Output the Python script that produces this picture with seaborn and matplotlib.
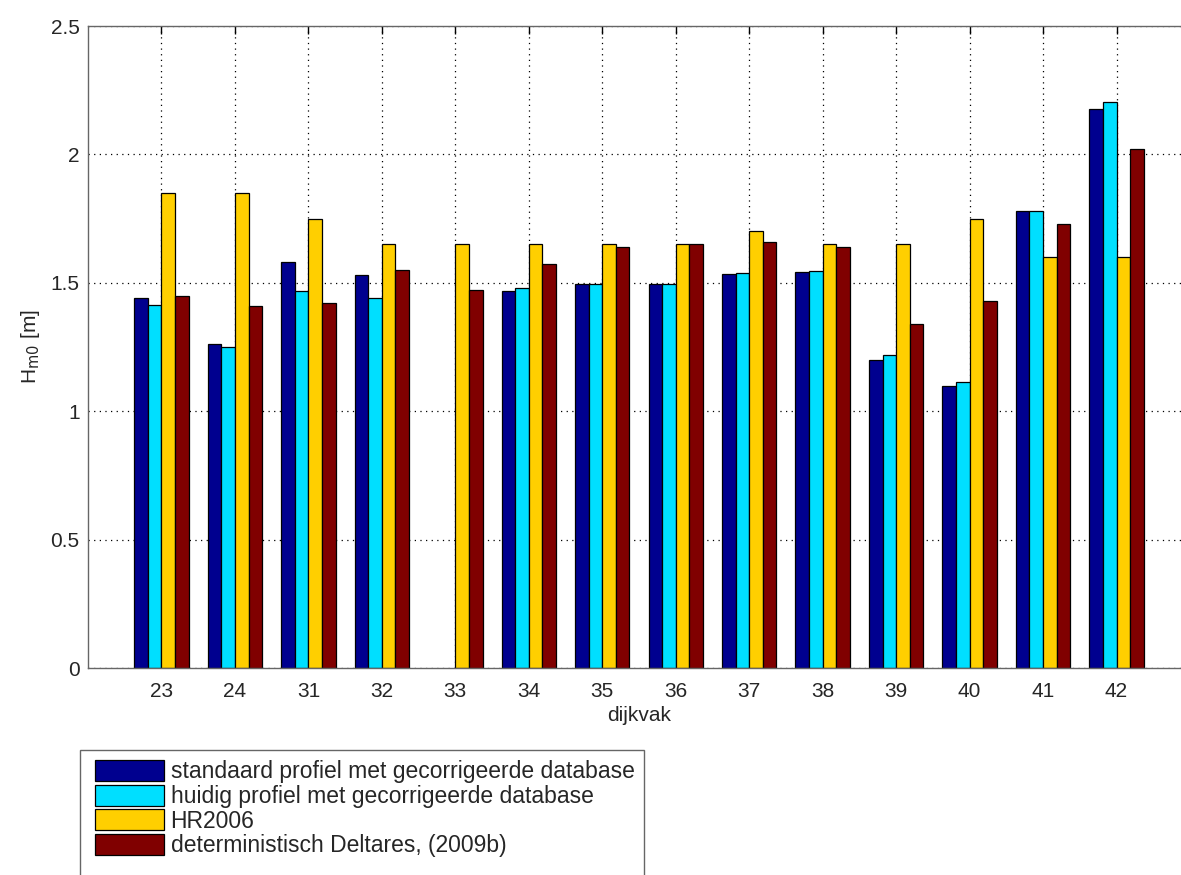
import matplotlib
matplotlib.use("Agg")
import matplotlib.pyplot as plt
import seaborn as sns
import numpy as np
import pandas as pd
from matplotlib.patches import Rectangle

# dijkvak sections and significant wave height H_m0 [m] per method
dijkvak = ["23", "24", "31", "32", "33", "34", "35", "36", "37", "38", "39", "40", "41", "42"]
standaard = [1.44, 1.26, 1.58, 1.53, np.nan, 1.47, 1.497, 1.497, 1.533, 1.543, 1.20, 1.10, 1.78, 2.178]
huidig = [1.415, 1.25, 1.47, 1.44, np.nan, 1.48, 1.497, 1.497, 1.537, 1.547, 1.218, 1.114, 1.78, 2.203]
hr2006 = [1.85, 1.85, 1.75, 1.65, 1.65, 1.65, 1.65, 1.65, 1.70, 1.65, 1.65, 1.75, 1.60, 1.60]
deltares = [1.45, 1.408, 1.42, 1.551, 1.472, 1.572, 1.639, 1.65, 1.659, 1.639, 1.341, 1.429, 1.73, 2.02]

series_names = [
    "standaard profiel met gecorrigeerde database",
    "huidig profiel met gecorrigeerde database",
    "HR2006",
    "deterministisch Deltares, (2009b)",
]
series_values = [standaard, huidig, hr2006, deltares]
colors = ["#00008F", "#00DFFF", "#FFCF00", "#800000"]

df = pd.DataFrame(
    [(d, name, v) for name, vals in zip(series_names, series_values) for d, v in zip(dijkvak, vals)],
    columns=["dijkvak", "reeks", "Hm0"],
)

sns.set_style("white")
plt.rcParams["font.family"] = ["Liberation Sans", "DejaVu Sans"]

W, H = 1181, 875
fig = plt.figure(figsize=(W / 100, H / 100), dpi=100)
ax = fig.add_axes([88 / W, 1 - 668 / H, (1190 - 88) / W, (668 - 26) / H])

sns.barplot(
    data=df, x="dijkvak", y="Hm0", hue="reeks", order=dijkvak, hue_order=series_names,
    palette=colors, width=0.74, gap=0, edgecolor="black", linewidth=0.9,
    saturation=1, errorbar=None, ax=ax, legend=True,
)

ax.set_xlim(-1, 14)
ax.set_ylim(0, 2.5)
ax.set_yticks([0, 0.5, 1, 1.5, 2, 2.5])
ax.set_yticklabels(["0", "0.5", "1", "1.5", "2", "2.5"])
ax.grid(True, which="major", axis="both", color="black", linestyle=(0, (1, 3.5)), linewidth=0.9)
ax.set_axisbelow(True)
for s in ax.spines.values():
    s.set_color("#666666")
    s.set_linewidth(1.0)
ax.tick_params(axis="both", direction="in", length=6, width=1, color="black",
               labelsize=15, top=True, right=True)
ax.tick_params(axis="y", pad=6)
ax.tick_params(axis="x", pad=10)
ax.set_xlabel("dijkvak", fontsize=15, labelpad=4)
ax.set_ylabel(r"H$_{\mathrm{m0}}$ [m]", fontsize=15, labelpad=6)

# legend below the axes
handles, labels = ax.get_legend_handles_labels()
ax.get_legend().remove()
leg = fig.legend(
    handles, labels, loc="upper left", bbox_to_anchor=(95 / W, 1 - 760 / H),
    fontsize=16.5, frameon=False, handlelength=3.0, handleheight=1.05,
    labelspacing=0.05, handletextpad=0.3, borderpad=0, borderaxespad=0,
)
fig.patches.append(Rectangle((80 / W, -0.05), (644 - 80) / W, 1 - 750 / H + 0.05,
                             transform=fig.transFigure, fill=False,
                             edgecolor="#666666", linewidth=1.0))

fig.savefig("out.png", dpi=100)
